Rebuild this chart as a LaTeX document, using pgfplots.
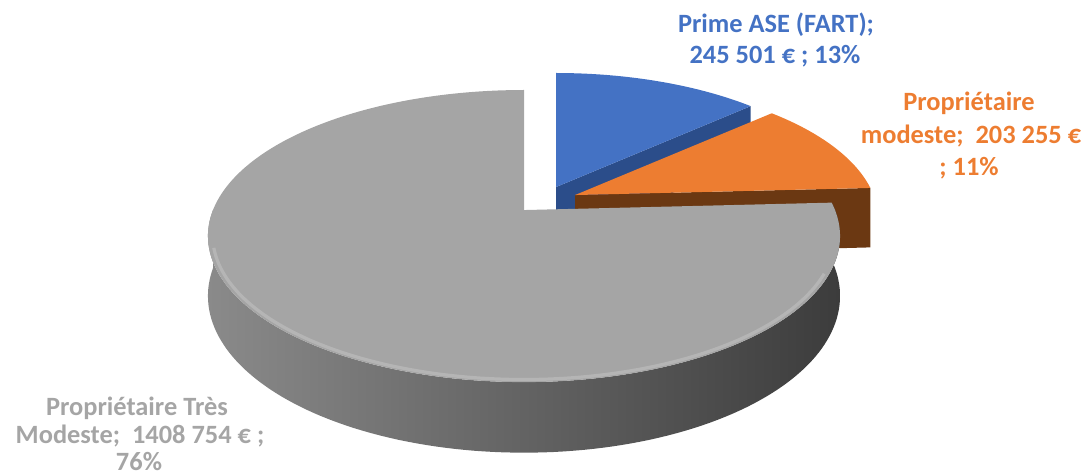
\documentclass[border=0pt]{standalone}
\usepackage{pgfplots}
\pgfplotsset{compat=1.18}
\usepackage{fontspec}
\setmainfont{Carlito}
\definecolor{bluetop}{HTML}{4472C4}
\definecolor{bluedark}{HTML}{2B4D8A}
\definecolor{orangetop}{HTML}{ED7D31}
\definecolor{brown}{HTML}{6B3812}
\definecolor{graytop}{HTML}{A5A5A5}
\definecolor{sidel}{HTML}{8A8A8A}
\definecolor{sidem}{HTML}{666666}
\definecolor{sider}{HTML}{3C3C3C}
\definecolor{graylab}{HTML}{A5A5A5}
% perspective projection of a point of the pie rim (pixel coordinates, y down)
\pgfmathdeclarefunction{pp}{1}{\pgfmathparse{1/(1+0.178*sin(#1))}}
\pgfmathdeclarefunction{PX}{3}{\pgfmathparse{524+#2+#3*311*cos(#1)*pp(#1)}}
\pgfmathdeclarefunction{PY}{4}{\pgfmathparse{210+#2+(#4-#3*141.4*sin(#1))*pp(#1)}}
\pgfmathdeclarefunction{TT}{3}{\pgfmathparse{(#1<1)*(#2+#1*(#3-#2))+(#1>=1)*(#3-(#1-1)*(#3-#2))}}
\pgfmathdeclarefunction{HH}{2}{\pgfmathparse{(#1>=1)*#2}}
\newcommand{\lab}{\bfseries\fontsize{13.2}{16}\selectfont}
\begin{document}
\begin{tikzpicture}
% data (thousands of euros)
\pgfmathsetmacro\vA{245.501}  % Prime ASE (FART)
\pgfmathsetmacro\vB{203.255}  % Proprietaire modeste
\pgfmathsetmacro\vC{1408.754} % Proprietaire Tres Modeste
\pgfmathsetmacro\tot{\vA+\vB+\vC}
\pgfmathsetmacro\k{360/\tot}
\pgfmathsetmacro\aA{90-\k*\vA}
\pgfmathsetmacro\aB{\aA-\k*\vB}
\pgfmathsetmacro\gE{360+\aB}
% blue cut face
\pgfmathsetmacro\bTx{PX(\aA,32,0.95)}
\pgfmathsetmacro\bTy{PY(\aA,-23,0.95,0)}
\pgfmathsetmacro\bBy{PY(\aA,-23,0.95,58)}
% orange cut face
\pgfmathsetmacro\oTx{PX(\aB,51,0.96)}
\pgfmathsetmacro\oTy{PY(\aB,-15,0.96,0)}
\pgfmathsetmacro\oBy{PY(\aB,-15,0.96,60)}
\begin{axis}[width=544pt,height=237pt,scale only axis,
  xmin=0,xmax=1088,ymin=0,ymax=474,y dir=reverse,
  hide axis,clip=false]
% blue slice
\edef\tmp{\noexpand\addplot[fill=bluedark,draw=none] coordinates {(556,187) (\bTx,\bTy) (\bTx,\bBy) (556,245)} -- cycle;}\tmp
\addplot[fill=bluetop,draw=none,domain=\aA:90,samples=80,variable=\t]
  ({PX(\t,32,0.95)},{PY(\t,-23,0.95,0)}) -- (axis cs:556,187) -- cycle;
% orange slice
\edef\tmp{\noexpand\addplot[fill=brown,draw=none] coordinates {(575,195) (\oTx,\oTy) (\oTx,\oBy) (575,255)} -- cycle;}\tmp
\addplot[fill=orangetop,draw=none,domain=\aB:\aA,samples=80,variable=\t]
  ({PX(\t,51,0.96)},{PY(\t,-15,0.96,0)}) -- (axis cs:575,195) -- cycle;
% gray slice side
\addplot[draw=none,left color=sidel,middle color=sidem,right color=sider,
  domain=0:2,samples=241,variable=\s]
  ({PX(TT(\s,180,\gE),0,1)},{PY(TT(\s,180,\gE),0,1,HH(\s,58))}) -- cycle;
% gray slice top
\addplot[fill=graytop,draw=none,domain=90:\gE,samples=240,variable=\t]
  ({PX(\t,0,1)},{PY(\t,0,1,0)}) -- (axis cs:524,210) -- cycle;
% soft rim highlight
\addplot[draw=white,opacity=0.18,line width=1.6pt,domain=195:335,samples=120,variable=\t]
  ({PX(\t,0,0.985)},{PY(\t,0,0.985,0)});
% labels
\node[anchor=base,text=bluetop,font=\lab] at (axis cs:776,32) {Prime ASE (FART);};
\node[anchor=base,text=bluetop,font=\lab] at (axis cs:775,63) {245 501 € ; 13\%};
\node[anchor=base,text=orangetop,font=\lab] at (axis cs:969,110) {Propriétaire};
\node[anchor=base,text=orangetop,font=\lab] at (axis cs:971,143) {modeste;\ \ 203 255 €};
\node[anchor=base,text=orangetop,font=\lab] at (axis cs:969,175) {; 11\%};
\node[anchor=base,text=graylab,font=\lab] at (axis cs:137,415) {Propriétaire Très};
\node[anchor=base,text=graylab,font=\lab] at (axis cs:140,443) {Modeste;\ \ 1408 754 € ;};
\node[anchor=base,text=graylab,font=\lab] at (axis cs:139,470) {76\%};
\end{axis}
\pgfresetboundingbox
\path (current axis.south west) rectangle (current axis.north east);
\end{tikzpicture}
\end{document}
